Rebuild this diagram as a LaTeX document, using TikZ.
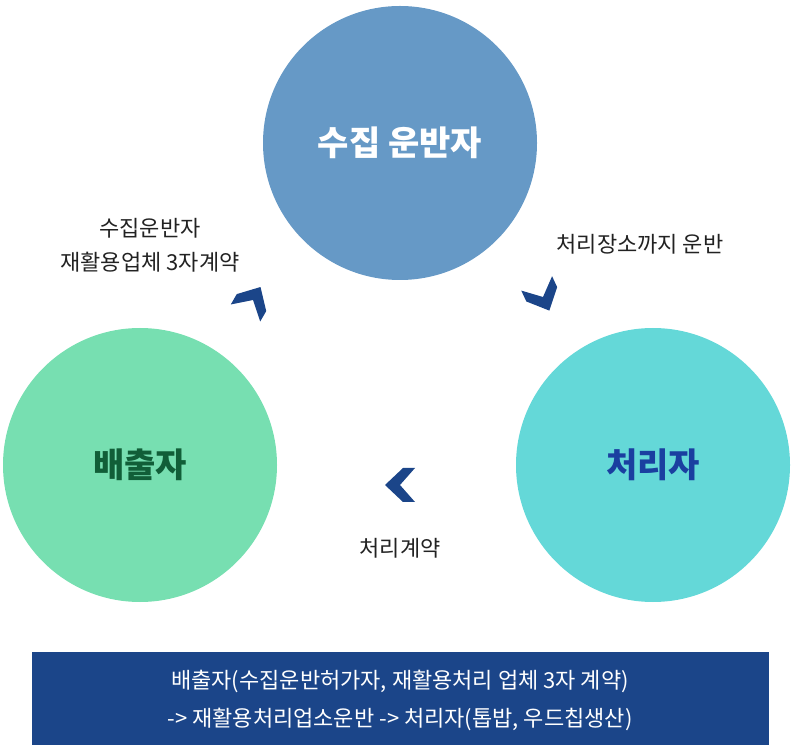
\documentclass[tikz,border=0pt]{standalone}
\usepackage{fontspec}
\setmainfont{Noto Sans CJK KR}
\usetikzlibrary{positioning}
\definecolor{collectblue}{HTML}{6699C6}
\definecolor{emitgreen}{HTML}{77DFB1}
\definecolor{treatcyan}{HTML}{64D8D8}
\definecolor{emittext}{HTML}{115E38}
\definecolor{treattext}{HTML}{1A3FA0}
\definecolor{chevblue}{HTML}{1B4589}
\definecolor{labelgray}{HTML}{222222}

\begin{document}
\begin{tikzpicture}[
      x=1pt, y=1pt,
      party/.style={circle, minimum size=274pt, inner sep=0pt,
        font=\fontsize{34}{38}\selectfont\bfseries},
      steplabel/.style={align=center, text=labelgray,
        font=\fontsize{22}{34}\selectfont},
      chev/.pic={\fill[chevblue] (-15,0) -- (3,17) -- (15,17) -- (0,0)
        -- (15,-17) -- (3,-17) -- cycle;},
      ]
      \useasboundingbox (0,0) rectangle (800,750);

      % the three parties
      \node[party, fill=collectblue, text=white] (collector) at (400,607) {수집 운반자};
      \node[party, fill=emitgreen, text=emittext] (emitter)  at (140,285) {배출자};
      \node[party, fill=treatcyan, text=treattext] (treater) at (653,285) {처리자};

      % flow chevrons
      \pic[rotate=-120] at (253,450) {chev};
      \pic[rotate=115]  at (543,453) {chev};
      \pic              at (400,265) {chev};

      % step labels
      \node[steplabel] (contract3) at (150,505) {수집운반자\\재활용업체 3자계약};
      \node[steplabel] (haul)      at (640,506) {처리장소까지 운반};
      \node[steplabel] (contract)  at (400,202) {처리계약};

      % summary box
      \fill[chevblue] (32,5) rectangle (769,98);
      \node[align=center, text=white, font=\fontsize{22}{38}\selectfont] (summary) at (400,50)
        {배출자(수집운반허가자, 재활용처리 업체 3자 계약)\\
         -> 재활용처리업소운반 -> 처리자(톱밥, 우드칩생산)};
    \end{tikzpicture}
\end{document}
